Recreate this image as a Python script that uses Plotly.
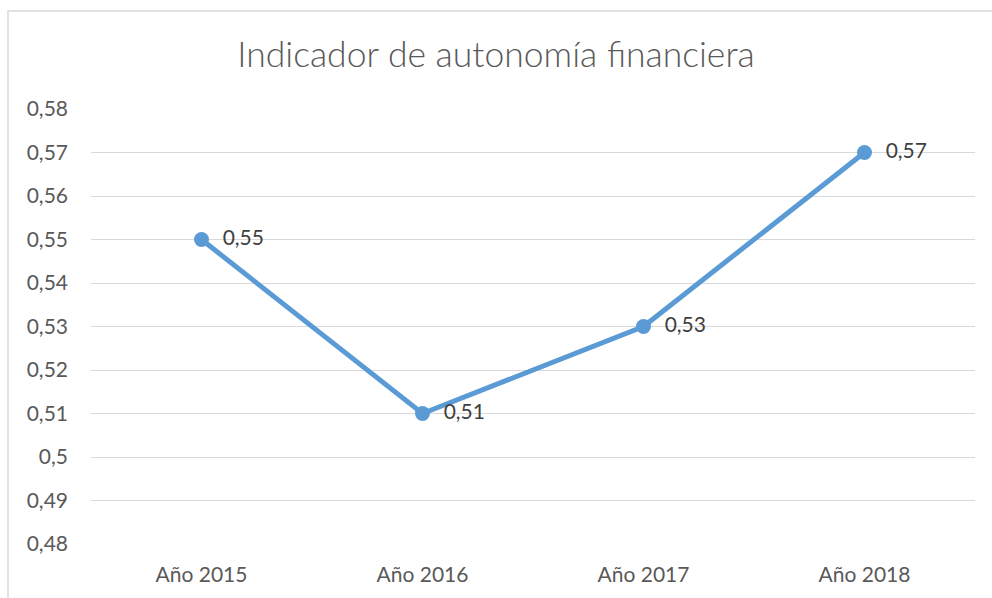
import plotly.graph_objects as go

# Datos del gráfico
anios = ["Año 2015", "Año 2016", "Año 2017", "Año 2018"]
indicador = [0.55, 0.51, 0.53, 0.57]
etiquetas = ["  " + f"{v:g}".replace(".", ",") for v in indicador]

fig = go.Figure()

fig.add_trace(go.Scatter(
    x=anios,
    y=indicador,
    mode="lines+markers+text",
    text=etiquetas,
    textposition="middle right",
    textfont=dict(size=21, color="#404040"),
    line=dict(color="#5B9BD5", width=5),
    marker=dict(color="#5B9BD5", size=15),
    cliponaxis=False,
    hoverinfo="skip"
))

# Marco del gráfico
fig.add_shape(
    type="rect", xref="paper", yref="paper",
    x0=-0.0939, x1=1.2, y0=-0.3, y1=1.2253,
    line=dict(color="#D9D9D9", width=1.5),
    fillcolor="rgba(0,0,0,0)", layer="below"
)

fig.update_layout(
    title=dict(
        text="Indicador de autonomía financiera",
        x=0.5, xanchor="center", y=0.908, yanchor="middle",
        font=dict(size=35.5, color="#595959", family="Lato", weight=300)
    ),
    width=992,
    height=598,
    margin=dict(l=91, r=17, t=109, b=54),
    separators=",.",
    paper_bgcolor="white",
    plot_bgcolor="white",
    font=dict(family="Lato", size=21, color="#595959"),
    showlegend=False,
    xaxis=dict(
        range=[-0.5, 3.5],
        showgrid=False,
        showline=False,
        ticks="",
        ticklabelstandoff=16,
        fixedrange=True
    ),
    yaxis=dict(
        range=[0.48, 0.58],
        dtick=0.01,
        tick0=0.48,
        showgrid=True,
        gridcolor="#D9D9D9",
        gridwidth=1.2,
        zeroline=False,
        showline=False,
        ticks="",
        ticklabelstandoff=22,
        fixedrange=True
    )
)

# sin margen en la página para que el gráfico ocupe la ventana
fig.write_html("out.html", config={"displayModeBar": False},
               post_script="document.body.style.margin='0';")
